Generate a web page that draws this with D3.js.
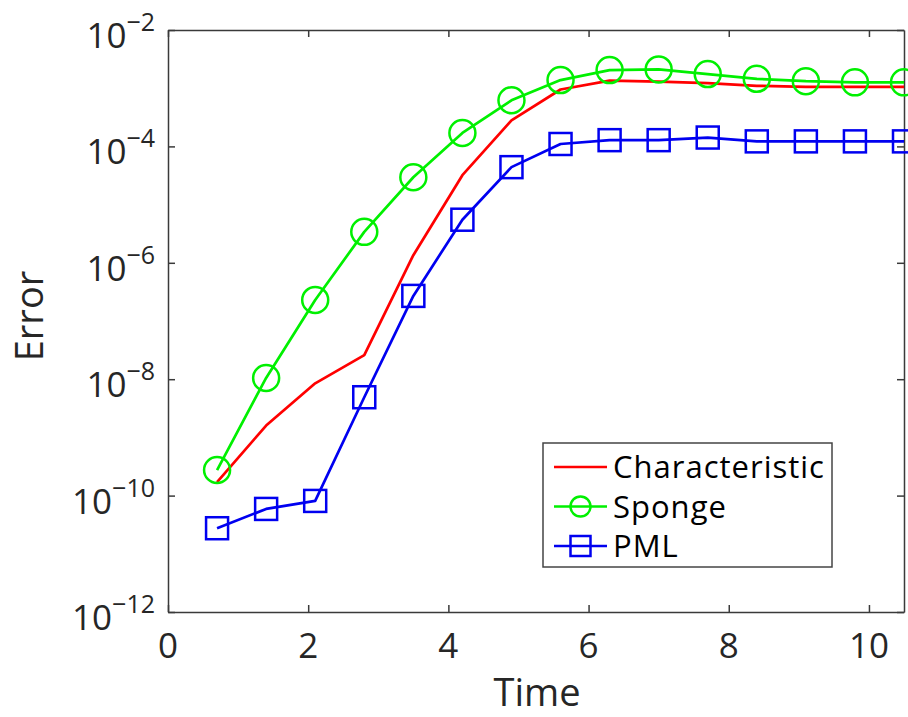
<!DOCTYPE html>
<html>
<head>
<meta charset="utf-8">
<script src="https://cdn.jsdelivr.net/npm/d3@7"></script>
<style>
  body { margin: 0; background: #fff; }
  svg { font-family: "Open Sans", sans-serif; }
  .axis path, .axis line { stroke: #3a3a3a; stroke-width: 1.5; }
</style>
</head>
<body>
<div id="chart"></div>
<script>
// data
var times = [0.7, 1.4, 2.1, 2.8, 3.5, 4.2, 4.9, 5.6, 6.3, 7.0, 7.7, 8.4, 9.1, 9.8, 10.5];
var characteristic = [1.7e-10, 1.6e-9, 8.5e-9, 2.6e-8, 1.35e-6, 3.2e-5, 2.8e-4, 9.5e-4, 1.35e-3, 1.3e-3, 1.22e-3, 1.1e-3, 1.05e-3, 1.05e-3, 1.05e-3];
var sponge = [2.75e-10, 1.05e-8, 2.3e-7, 3.4e-6, 2.95e-5, 1.7e-4, 6.2e-4, 1.38e-3, 2.05e-3, 2.1e-3, 1.75e-3, 1.45e-3, 1.32e-3, 1.26e-3, 1.26e-3];
var pml = [2.75e-11, 5.9e-11, 8.1e-11, 4.9e-9, 2.7e-7, 5.5e-6, 4.4e-5, 1.1e-4, 1.28e-4, 1.28e-4, 1.42e-4, 1.22e-4, 1.22e-4, 1.22e-4, 1.22e-4];

var xTicks = [0, 2, 4, 6, 8, 10];
var yTickExps = [-12, -10, -8, -6, -4, -2];

var seriesNames = ["Characteristic", "Sponge", "PML"];
var seriesColors = ["#ff0000", "#00f000", "#0000f0"];
var seriesMarkers = ["none", "circle", "square"];

var width = 908, height = 717;
var plot = { left: 168, right: 904, top: 30, bottom: 612 };

var svg = d3.select("#chart").append("svg")
    .attr("width", width)
    .attr("height", height);

var x = d3.scaleLinear().domain([0, 10.5]).range([plot.left, plot.right]);
var y = d3.scaleLog().domain([1e-12, 1e-2]).range([plot.bottom, plot.top]);

var yTickVals = yTickExps.map(function (e) { return Math.pow(10, e); });

// box with inward ticks on all sides (matlab style)
svg.append("g")
    .attr("class", "axis")
    .attr("transform", "translate(0," + plot.bottom + ")")
    .call(d3.axisBottom(x).tickValues(xTicks).tickSizeInner(-7).tickSizeOuter(0).tickFormat(""));
svg.append("g")
    .attr("class", "axis")
    .attr("transform", "translate(0," + plot.top + ")")
    .call(d3.axisTop(x).tickValues(xTicks).tickSizeInner(-7).tickSizeOuter(0).tickFormat(""));
svg.append("g")
    .attr("class", "axis")
    .attr("transform", "translate(" + plot.left + ",0)")
    .call(d3.axisLeft(y).tickValues(yTickVals).tickSizeInner(-7).tickSizeOuter(0).tickFormat(""));
svg.append("g")
    .attr("class", "axis")
    .attr("transform", "translate(" + plot.right + ",0)")
    .call(d3.axisRight(y).tickValues(yTickVals).tickSizeInner(-7).tickSizeOuter(0).tickFormat(""));

// x tick labels
svg.append("g").selectAll("text")
    .data(xTicks)
    .enter().append("text")
    .attr("x", function (d) { return x(d); })
    .attr("y", 658)
    .attr("text-anchor", "middle")
    .attr("font-size", 35)
    .attr("fill", "#262626")
    .text(function (d) { return d; });

// y tick labels 10^e
var yLab = svg.append("g").selectAll("text")
    .data(yTickExps)
    .enter().append("text")
    .attr("x", 155)
    .attr("y", function (d) { return y(Math.pow(10, d)) + 18; })
    .attr("text-anchor", "end")
    .attr("fill", "#262626");
yLab.append("tspan").attr("font-size", 35).text("10");
yLab.append("tspan").attr("font-size", 25).attr("dy", -17)
    .text(function (d) { return "\u2212" + Math.abs(d); });

// axis titles
svg.append("text")
    .attr("x", 537)
    .attr("y", 706)
    .attr("text-anchor", "middle")
    .attr("font-size", 38)
    .attr("fill", "#262626")
    .text("Time");

svg.append("text")
    .attr("transform", "translate(43,316) rotate(-90)")
    .attr("text-anchor", "middle")
    .attr("font-size", 38)
    .attr("fill", "#262626")
    .text("Error");

// lines and markers
var line = d3.line()
    .x(function (d, i) { return x(times[i]); })
    .y(function (d) { return y(d); });

var allSeries = [characteristic, sponge, pml];

function drawMarker(g, type, color, cx, cy, size) {
    if (type === "circle") {
        g.append("circle")
            .attr("cx", cx).attr("cy", cy).attr("r", size)
            .attr("fill", "none").attr("stroke", color).attr("stroke-width", 2.5);
    } else if (type === "square") {
        g.append("rect")
            .attr("x", cx - size).attr("y", cy - size)
            .attr("width", size * 2).attr("height", size * 2)
            .attr("fill", "none").attr("stroke", color).attr("stroke-width", 2.5);
    }
}

allSeries.forEach(function (vals, k) {
    var g = svg.append("g");
    g.append("path")
        .datum(vals)
        .attr("d", line)
        .attr("fill", "none")
        .attr("stroke", seriesColors[k])
        .attr("stroke-width", 2.7)
        .attr("stroke-linejoin", "round");
    vals.forEach(function (v, i) {
        drawMarker(g, seriesMarkers[k], seriesColors[k], x(times[i]), y(v), seriesMarkers[k] === "circle" ? 13 : 11);
    });
});

// legend
var legend = svg.append("g").attr("transform", "translate(543,443)");
legend.append("rect")
    .attr("width", 289).attr("height", 124)
    .attr("fill", "#fff").attr("stroke", "#444").attr("stroke-width", 1.5);

seriesNames.forEach(function (name, k) {
    var ly = 24 + k * 39.5;
    legend.append("line")
        .attr("x1", 11).attr("x2", 64).attr("y1", ly).attr("y2", ly)
        .attr("stroke", seriesColors[k]).attr("stroke-width", 2.7);
    drawMarker(legend, seriesMarkers[k], seriesColors[k], 37.5, ly, 10);
    legend.append("text")
        .attr("x", 70)
        .attr("y", ly + 11)
        .attr("font-size", 31)
        .attr("letter-spacing", 1)
        .attr("fill", "#000")
        .text(name);
});
</script>
</body>
</html>
